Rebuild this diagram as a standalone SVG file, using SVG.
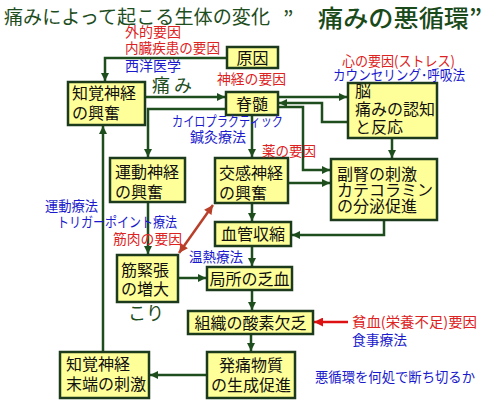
<svg xmlns="http://www.w3.org/2000/svg" width="485" height="400" viewBox="0 0 485 400">
<defs>
<style>
.box{fill:#ffff99;stroke:#1c3a1c;stroke-width:2.5}
.bt{font-family:"Noto Sans CJK JP","Noto Sans",sans-serif;font-size:16px;fill:#111}
.lb{font-family:"Noto Sans CJK JP","Noto Sans",sans-serif;font-size:14px}
.red{fill:#dd2222}
.blue{fill:#1a1acc}
.cn{fill:none;stroke:#1e4d1e;stroke-width:2.5;marker-end:url(#ah)}
</style>
<marker id="ah" viewBox="0 0 10 10" refX="10" refY="5" markerWidth="9" markerHeight="8" markerUnits="userSpaceOnUse" orient="auto"><path d="M0,0 L10,5 L0,10 z" fill="#1e4d1e"/></marker>
<marker id="rh" viewBox="0 0 10 10" refX="10" refY="5" markerWidth="10" markerHeight="9" markerUnits="userSpaceOnUse" orient="auto-start-reverse"><path d="M0,0 L10,5 L0,10 z" fill="#b8402a"/></marker>
<marker id="rh2" viewBox="0 0 10 10" refX="10" refY="5" markerWidth="10" markerHeight="9" markerUnits="userSpaceOnUse" orient="auto"><path d="M0,0 L10,5 L0,10 z" fill="#dd1111"/></marker>
</defs>
<rect width="485" height="400" fill="#ffffff"/>

<g id="title">
<text x="4" y="24" font-family="'Noto Sans CJK JP',sans-serif" font-size="19" fill="#1e4d1e" textLength="266" lengthAdjust="spacingAndGlyphs">痛みによって起こる生体の変化</text>
<text x="283" y="27" font-family="'Noto Sans CJK JP',sans-serif" font-size="22" fill="#1e4d1e">”</text>
<text x="318" y="27" font-family="'Noto Sans CJK JP',sans-serif" font-size="24" font-weight="500" fill="#1a4a1a" textLength="164" lengthAdjust="spacingAndGlyphs">痛みの悪循環”</text>
</g>

<g id="connectors">
<path class="cn" d="M227,58 H105 V81"/>
<path class="cn" d="M145,97 H225"/>
<path class="cn" d="M278,97 H347"/>
<path class="cn" d="M348,122 H322 V103 H279"/>
<path class="cn" d="M278,107 H303 V170 H330"/>
<path class="cn" d="M226,109 H148 V157"/>
<path class="cn" d="M252,115 V157"/>
<path class="cn" d="M392,138 V158"/>
<path class="cn" d="M288,183 H330"/>
<path class="cn" d="M252,203 V221"/>
<path class="cn" d="M384,220 V235 H292"/>
<path class="cn" d="M252,246 V266"/>
<path class="cn" d="M178,278 H206"/>
<path class="cn" d="M252,290 V310"/>
<path class="cn" d="M251,334 V351"/>
<path class="cn" d="M207,375 H150"/>
<path class="cn" d="M103,352 V126"/>
<path class="cn" d="M148,202 V254"/>
<path d="M179,253 L213,205" fill="none" stroke="#b8402a" stroke-width="2.5" marker-start="url(#rh)" marker-end="url(#rh)"/>
<path d="M348,322 H314" fill="none" stroke="#dd1111" stroke-width="2.5" marker-end="url(#rh2)"/>
</g>

<g id="n-cause"><rect class="box" x="227" y="47" width="51" height="21"/><text class="bt" x="252.5" y="64" text-anchor="middle">原因</text></g>
<g id="n-sensory"><rect class="box" x="68" y="82" width="77" height="43"/><text class="bt" x="72" y="99">知覚神経</text><text class="bt" x="72" y="119">の興奮</text></g>
<g id="n-spinal"><rect class="box" x="226" y="92" width="52" height="23"/><text class="bt" x="252" y="110" text-anchor="middle">脊髄</text></g>
<g id="n-brain"><rect class="box" x="348" y="83" width="89" height="55"/><text class="bt" x="355" y="97">脳</text><text class="bt" x="355" y="115">痛みの認知</text><text class="bt" x="355" y="133">と反応</text></g>
<g id="n-motor"><rect class="box" x="110" y="158" width="75" height="44"/><text class="bt" x="115" y="178">運動神経</text><text class="bt" x="115" y="198">の興奮</text></g>
<g id="n-sympathetic"><rect class="box" x="215" y="158" width="73" height="45"/><text class="bt" x="219" y="179">交感神経</text><text class="bt" x="219" y="199">の興奮</text></g>
<g id="n-adrenal"><rect class="box" x="331" y="159" width="106" height="61"/><text class="bt" x="337" y="180">副腎の刺激</text><text class="bt" x="337" y="196">カテコラミン</text><text class="bt" x="337" y="212">の分泌促進</text></g>
<g id="n-vaso"><rect class="box" x="215" y="222" width="76" height="24"/><text class="bt" x="253" y="240" text-anchor="middle">血管収縮</text></g>
<g id="n-muscle"><rect class="box" x="117" y="255" width="61" height="47"/><text class="bt" x="121" y="276">筋緊張</text><text class="bt" x="121" y="295">の増大</text></g>
<g id="n-ischemia"><rect class="box" x="207" y="267" width="85" height="23"/><text class="bt" x="249.5" y="285" text-anchor="middle">局所の乏血</text></g>
<g id="n-hypoxia"><rect class="box" x="188" y="311" width="125" height="23"/><text class="bt" x="250.5" y="329" text-anchor="middle">組織の酸素欠乏</text></g>
<g id="n-terminal"><rect class="box" x="60" y="352" width="89" height="46"/><text class="bt" x="66" y="370">知覚神経</text><text class="bt" x="66" y="390">末端の刺激</text></g>
<g id="n-algesic"><rect class="box" x="207" y="352" width="88" height="46"/><text class="bt" x="251" y="371" text-anchor="middle">発痛物質</text><text class="bt" x="251" y="391" text-anchor="middle">の生成促進</text></g>

<g id="labels">
<text class="lb red" x="125" y="37">外的要因</text>
<text class="lb red" x="125" y="53" textLength="95" lengthAdjust="spacingAndGlyphs">内臓疾患の要因</text>
<text class="lb blue" x="125" y="71">西洋医学</text>
<text x="152" y="92" font-family="'Noto Sans CJK JP',sans-serif" font-size="18" fill="#1e4d1e">痛 み</text>
<text class="lb red" x="217" y="84" textLength="69" lengthAdjust="spacingAndGlyphs">神経の要因</text>
<text class="lb red" x="342" y="66" textLength="113" lengthAdjust="spacingAndGlyphs">心の要因(ストレス)</text>
<text class="lb blue" x="333" y="80" textLength="132" lengthAdjust="spacingAndGlyphs">カウンセリング･呼吸法</text>
<text class="lb blue" x="172" y="126" textLength="111" lengthAdjust="spacingAndGlyphs">カイロプラクティック</text>
<text class="lb blue" x="190" y="142">鍼灸療法</text>
<text class="lb red" x="262" y="156" textLength="54" lengthAdjust="spacingAndGlyphs">薬の要因</text>
<text class="lb blue" x="45" y="211" textLength="53" lengthAdjust="spacingAndGlyphs">運動療法</text>
<text class="lb blue" x="57" y="227" textLength="120" lengthAdjust="spacingAndGlyphs">トリガーポイント療法</text>
<text class="lb red" x="113" y="244" textLength="69" lengthAdjust="spacingAndGlyphs">筋肉の要因</text>
<text class="lb blue" x="189" y="262" textLength="54" lengthAdjust="spacingAndGlyphs">温熱療法</text>
<text x="128" y="320" font-family="'Noto Sans CJK JP',sans-serif" font-size="18" fill="#1e4d1e">こり</text>
<text class="lb red" x="352" y="327" textLength="125" lengthAdjust="spacingAndGlyphs">貧血(栄養不足)要因</text>
<text class="lb blue" x="352" y="345" textLength="55" lengthAdjust="spacingAndGlyphs">食事療法</text>
<text class="lb blue" x="315" y="382" textLength="160" lengthAdjust="spacingAndGlyphs">悪循環を何処で断ち切るか</text>
</g>
</svg>
